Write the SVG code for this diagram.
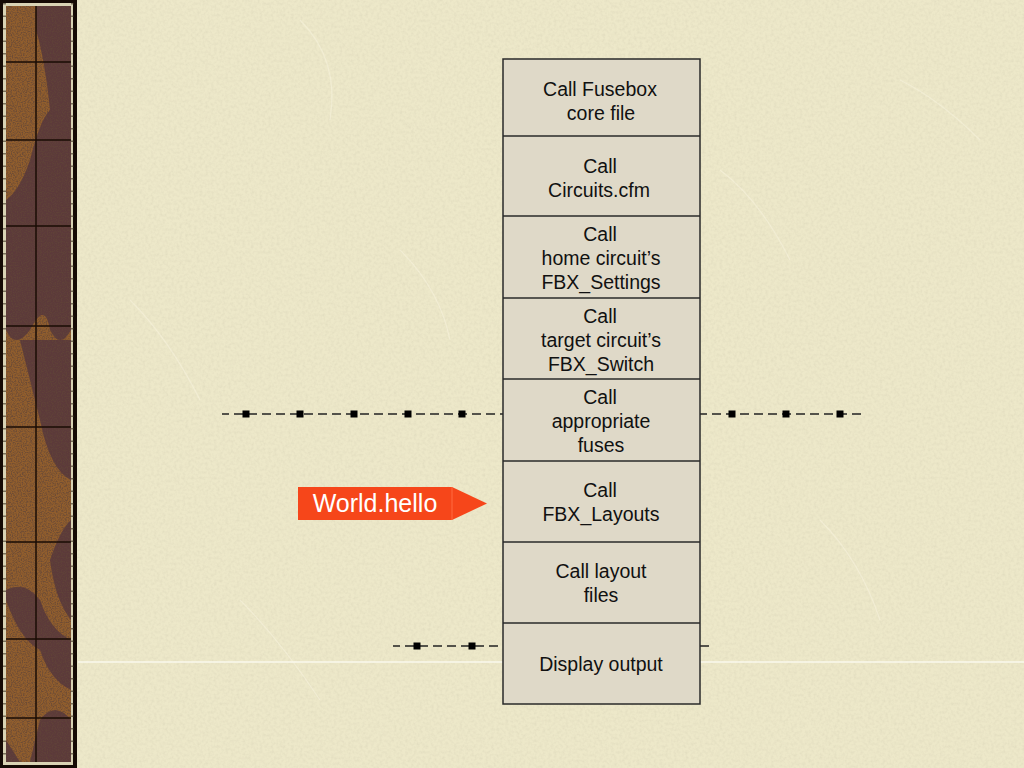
<svg xmlns="http://www.w3.org/2000/svg" width="1024" height="768" viewBox="0 0 1024 768">
  <defs>
    <filter id="paper" x="0" y="0" width="100%" height="100%">
      <feTurbulence type="fractalNoise" baseFrequency="0.35" numOctaves="2" seed="3" result="n"/>
      <feColorMatrix in="n" type="matrix" values="0 0 0 0 0.55  0 0 0 0 0.52  0 0 0 0 0.38  0 0 0 0.9 -0.35" result="c"/>
      <feComposite in="c" in2="SourceGraphic" operator="in"/>
    </filter>
    <filter id="grain" x="0" y="0" width="100%" height="100%">
      <feTurbulence type="fractalNoise" baseFrequency="0.8" numOctaves="2" seed="7" result="n"/>
      <feColorMatrix in="n" type="matrix" values="0 0 0 0 0.12  0 0 0 0 0.06  0 0 0 0 0.04  0 0 0 3 -1.2" result="c"/>
      <feComposite in="c" in2="SourceGraphic" operator="in"/>
    </filter>
    <g id="sq"><rect x="-3.5" y="-3.5" width="7" height="7" fill="#000"/></g>
  </defs>
  <style>
    .box { fill: #DFD9C8; stroke: #2a2a2a; stroke-width: 1.5; }
    .sep { stroke: #2a2a2a; stroke-width: 1.5; }
    .lbl { font-family: "Liberation Sans", Arial, sans-serif; font-size: 19.5px; fill: #111; text-anchor: middle; }
    .dash { stroke: #222; stroke-width: 1.5; stroke-dasharray: 9 5; fill: none; }
    .grid { stroke: #1a0d05; stroke-width: 1.5; }
  </style>

  <!-- background paper -->
  <rect x="0" y="0" width="1024" height="768" fill="#EDE8C9"/>
  <rect x="0" y="0" width="1024" height="768" fill="#EDE8C9" filter="url(#paper)" opacity="0.5"/>
  <g stroke="#F6F2DC" stroke-width="1.2" fill="none" opacity="0.6">
    <path d="M300 20 Q340 60 330 120"/>
    <path d="M130 300 Q170 340 200 400"/>
    <path d="M720 170 Q760 200 790 260"/>
    <path d="M820 520 Q860 560 880 620"/>
    <path d="M240 600 Q280 640 320 700"/>
    <path d="M900 80 Q940 100 980 140"/>
    <path d="M400 250 Q440 290 450 340"/>
  </g>
  <line x1="78" y1="662" x2="1024" y2="662" stroke="#FAF8EC" stroke-width="1.5"/>

  <!-- left border strip -->
  <g id="border">
    <rect x="0" y="0" width="77" height="768" fill="#150a04"/>
    <rect x="3" y="3" width="70" height="762" fill="#D9D3B4"/>
    <rect x="6" y="6" width="65" height="756" fill="#915E2D"/>
    <g fill="#5C3A3A">
      <path d="M36 6 L71 6 L71 330 Q60 350 50 330 Q45 300 30 330 Q15 350 6 330 L6 200 Q20 190 30 160 Q40 120 50 110 Q45 60 36 30 Z"/>
      <path d="M20 340 Q30 380 40 420 Q50 470 71 480 L71 340 Z"/>
      <path d="M50 560 Q55 600 71 620 L71 520 Q60 530 50 560 Z"/>
      <path d="M6 600 Q20 640 40 650 Q50 680 71 690 L71 640 Q50 630 40 600 Q25 580 6 590 Z"/>
      <path d="M40 720 Q55 700 71 720 L71 762 L30 762 Q35 740 40 720 Z"/>
      <path d="M6 740 L20 762 L6 762 Z"/>
    </g>
    <rect x="6" y="6" width="65" height="756" fill="#000" filter="url(#grain)" opacity="0.7"/>
    <line class="grid" x1="36" y1="6" x2="36" y2="762"/>
    <line class="grid" x1="6" y1="62" x2="71" y2="62"/>
    <line class="grid" x1="6" y1="140" x2="71" y2="140"/>
    <line class="grid" x1="6" y1="226" x2="71" y2="226"/>
    <line class="grid" x1="6" y1="326" x2="71" y2="326"/>
    <line class="grid" x1="6" y1="427" x2="71" y2="427"/>
    <line class="grid" x1="6" y1="542" x2="71" y2="542"/>
    <line class="grid" x1="6" y1="639" x2="71" y2="639"/>
    <line class="grid" x1="6" y1="718" x2="71" y2="718"/>
    <line x1="4.5" y1="3" x2="4.5" y2="765" stroke="#3a3020" stroke-width="3" stroke-dasharray="1.5 11" opacity="0.6"/>
    <line x1="72.5" y1="3" x2="72.5" y2="765" stroke="#3a3020" stroke-width="3" stroke-dasharray="1.5 11" opacity="0.6"/>
  </g>

  <!-- dashed guide lines -->
  <g id="connectors">
    <line class="dash" x1="222" y1="414" x2="503" y2="414" stroke-dashoffset="2"/>
    <line class="dash" x1="700" y1="414" x2="862" y2="414" stroke-dashoffset="2"/>
    <line class="dash" x1="393" y1="646" x2="503" y2="646" stroke-dashoffset="2"/>
    <line class="dash" x1="700" y1="646" x2="712" y2="646"/>
    <use href="#sq" x="246" y="414"/>
    <use href="#sq" x="300" y="414"/>
    <use href="#sq" x="354" y="414"/>
    <use href="#sq" x="408" y="414"/>
    <use href="#sq" x="462" y="414"/>
    <use href="#sq" x="732" y="414"/>
    <use href="#sq" x="786" y="414"/>
    <use href="#sq" x="840" y="414"/>
    <use href="#sq" x="417" y="646"/>
    <use href="#sq" x="472" y="646"/>
  </g>

  <!-- stack of steps -->
  <g id="stack">
    <rect class="box" x="503" y="59" width="197" height="645"/>
    <line class="sep" x1="503" y1="136" x2="700" y2="136"/>
    <line class="sep" x1="503" y1="216" x2="700" y2="216"/>
    <line class="sep" x1="503" y1="298" x2="700" y2="298"/>
    <line class="sep" x1="503" y1="379" x2="700" y2="379"/>
    <line class="sep" x1="503" y1="461" x2="700" y2="461"/>
    <line class="sep" x1="503" y1="542" x2="700" y2="542"/>
    <line class="sep" x1="503" y1="623" x2="700" y2="623"/>
  </g>
  <g id="step1"><text class="lbl" x="600" y="96">Call Fusebox</text><text class="lbl" x="601" y="120">core file</text></g>
  <g id="step2"><text class="lbl" x="600" y="173">Call</text><text class="lbl" x="599" y="197">Circuits.cfm</text></g>
  <g id="step3"><text class="lbl" x="600" y="241">Call</text><text class="lbl" x="601" y="265">home circuit’s</text><text class="lbl" x="601" y="289">FBX_Settings</text></g>
  <g id="step4"><text class="lbl" x="600" y="323">Call</text><text class="lbl" x="601" y="347">target circuit’s</text><text class="lbl" x="601" y="371">FBX_Switch</text></g>
  <g id="step5"><text class="lbl" x="600" y="404">Call</text><text class="lbl" x="601" y="428">appropriate</text><text class="lbl" x="601" y="452">fuses</text></g>
  <g id="step6"><text class="lbl" x="600" y="497">Call</text><text class="lbl" x="601" y="521">FBX_Layouts</text></g>
  <g id="step7"><text class="lbl" x="601" y="578">Call layout</text><text class="lbl" x="601" y="602">files</text></g>
  <g id="step8"><text class="lbl" x="601" y="671">Display output</text></g>

  <!-- World.hello pointer -->
  <g id="pointer">
    <polygon points="298,487 452,487 487,503.5 452,520 298,520" fill="#F6461A"/>
    <line x1="452" y1="487" x2="452" y2="520" stroke="#FF6A40" stroke-width="1"/>
    <text x="375" y="512" font-family="Liberation Sans, Arial, sans-serif" font-size="25" fill="#FFFFFF" text-anchor="middle">World.hello</text>
  </g>
</svg>
